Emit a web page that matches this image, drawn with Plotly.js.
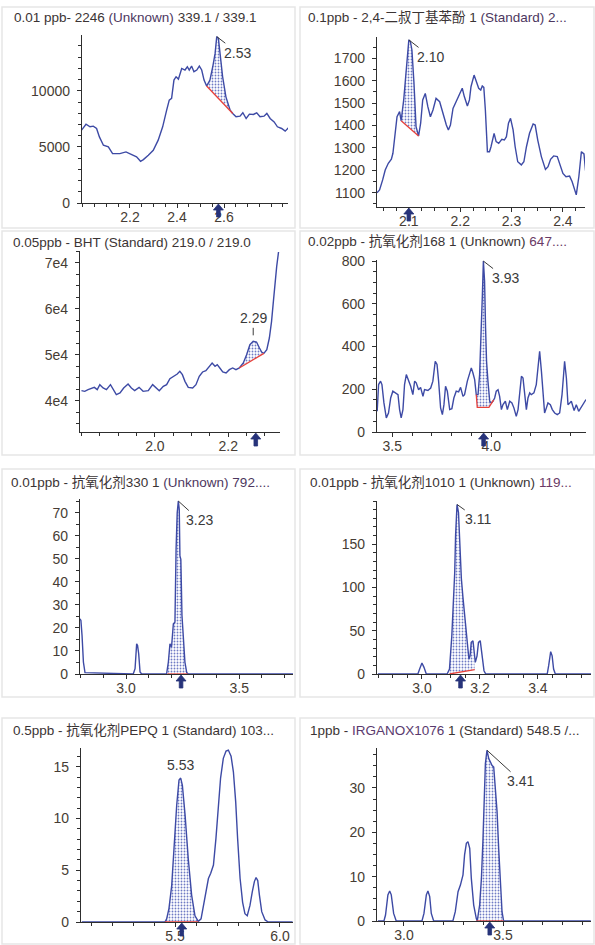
<!DOCTYPE html>
<html><head><meta charset="utf-8">
<script src="https://cdn.plot.ly/plotly-3.0.1.min.js"></script>
<style>html,body{margin:0;padding:0;background:#fff}#chart{width:595px;height:945px}</style>
</head><body><div id="chart"></div>
<script>
// ---------- DATA ----------
const p1Title = '0.01 ppb- 2246 <span style="color:#4d3760">(Unknown)</span> 339.1 / 339.1';
const p1X = [1.994,2.013,2.03,2.044,2.058,2.07,2.087,2.108,2.126,2.157,2.183,2.207,2.228,2.245,2.257,2.278,2.299,2.32,2.339,2.356,2.367,2.377,2.387,2.396,2.406,2.42,2.434,2.444,2.452,2.462,2.472,2.484,2.495,2.505,2.515,2.526,2.54,2.552,2.562,2.569,2.576,2.583,2.594,2.608,2.626,2.637,2.651,2.668,2.68,2.694,2.708,2.725,2.739,2.753,2.77,2.782,2.796,2.813,2.827,2.845,2.86,2.874];
const p1Y = [6490,7020,6790,6850,6640,5890,5150,5000,4400,4400,4550,4350,4110,3720,3870,4260,4700,5600,6790,8270,9170,9320,10950,11250,11040,11990,11850,12140,11850,12200,11700,11850,12200,11850,10950,10420,10950,12140,13330,14820,14670,13330,11250,9460,8270,7980,7680,7740,8040,7530,7920,7890,8040,7680,7740,7980,7530,7230,6790,6640,6400,6700];
const p1BaseX = [2.526,2.637], p1BaseY = [10420,7980];
const p1Peak = {x:2.569, y:14820, label:'2.53'}, p1Marker = 2.576;
const p1XTicks = [2.2,2.4,2.6], p1XLabels = ['2.2','2.4','2.6'];
const p1YTicks = [0,5000,10000], p1YLabels = ['0','5000','10000'];

const p2Title = '0.1ppb - 2,4-二叔丁基苯酚 1 <span style="color:#4d3760">(Standard) 2...</span>';
const p2X = [2.038,2.043,2.049,2.054,2.06,2.066,2.069,2.073,2.077,2.082,2.085,2.09,2.095,2.1,2.103,2.106,2.11,2.112,2.114,2.119,2.123,2.127,2.132,2.137,2.142,2.147,2.153,2.16,2.166,2.173,2.177,2.181,2.186,2.192,2.197,2.204,2.208,2.214,2.218,2.221,2.227,2.231,2.236,2.24,2.243,2.246,2.249,2.253,2.257,2.26,2.266,2.27,2.275,2.281,2.286,2.29,2.294,2.298,2.303,2.307,2.312,2.319,2.324,2.329,2.335,2.342,2.346,2.351,2.358,2.366,2.371,2.376,2.382,2.389,2.394,2.4,2.406,2.413,2.418,2.423,2.426,2.431,2.436,2.441,2.444,2.448];
const p2Y = [1100,1112,1157,1201,1231,1249,1276,1365,1439,1462,1421,1514,1663,1782,1775,1737,1588,1469,1395,1353,1410,1514,1543,1484,1439,1469,1521,1506,1454,1402,1380,1402,1476,1506,1529,1566,1529,1487,1514,1573,1625,1596,1566,1558,1576,1570,1469,1283,1283,1305,1365,1328,1320,1338,1335,1350,1410,1432,1380,1305,1238,1224,1238,1305,1365,1407,1402,1335,1261,1204,1216,1249,1264,1261,1231,1186,1171,1174,1149,1104,1090,1171,1283,1273,1201,1149];
const p2BaseX = [2.085,2.119], p2BaseY = [1421,1353];
const p2Peak = {x:2.1, y:1782, label:'2.10'}, p2Marker = 2.1;
const p2XTicks = [2.1,2.2,2.3,2.4], p2XLabels = ['2.1','2.2','2.3','2.4'];
const p2YTicks = [1100,1200,1300,1400,1500,1600,1700], p2YLabels = ['1100','1200','1300','1400','1500','1600','1700'];

const p3Title = '0.05ppb - BHT (Standard) 219.0 / 219.0';
const p3X = [1.8,1.809,1.818,1.827,1.835,1.843,1.85,1.859,1.868,1.879,1.888,1.895,1.905,1.915,1.927,1.936,1.945,1.957,1.968,1.982,1.994,2.003,2.012,2.023,2.032,2.041,2.052,2.061,2.068,2.075,2.082,2.091,2.103,2.112,2.121,2.13,2.139,2.145,2.15,2.156,2.164,2.17,2.177,2.185,2.194,2.203,2.212,2.221,2.23,2.241,2.25,2.259,2.268,2.277,2.285,2.291,2.297,2.305,2.312,2.318,2.323,2.327,2.332,2.337];
const p3Y = [42180,42030,42400,42610,42900,42400,43490,42760,42400,43490,42400,41310,41670,42760,43630,42760,42180,42900,42030,42180,43490,42900,42180,43120,43490,44790,45300,45810,46390,45660,44210,42900,42760,43490,45300,46250,46540,47120,47700,48210,47480,47840,47120,46250,46030,46750,47120,46750,47120,48210,50020,52200,52930,52780,51470,50600,50310,51110,53650,57280,61640,66000,69270,72390];
const p3BaseX = [2.23,2.297], p3BaseY = [47120,50310];
const p3Peak = {x:2.268, y:52930, label:'2.29'}, p3Marker = 2.275;
const p3XTicks = [2.0,2.2], p3XLabels = ['2.0','2.2'];
const p3YTicks = [40000,50000,60000,70000], p3YLabels = ['4e4','5e4','6e4','7e4'];

const p4Title = '0.02ppb - 抗氧化剂168 1 (Unknown) <span style="color:#6a3a66">647....</span>';
const p4X = [3.424,3.431,3.441,3.448,3.458,3.47,3.481,3.492,3.503,3.515,3.529,3.537,3.545,3.554,3.562,3.571,3.582,3.593,3.604,3.613,3.621,3.633,3.643,3.655,3.663,3.68,3.694,3.705,3.717,3.726,3.734,3.744,3.753,3.761,3.769,3.778,3.79,3.801,3.811,3.823,3.835,3.845,3.857,3.865,3.879,3.891,3.899,3.907,3.916,3.924,3.933,3.941,3.946,3.95,3.955,3.96,3.966,3.971,3.976,3.983,3.992,4.0,4.008,4.017,4.025,4.034,4.042,4.051,4.059,4.071,4.081,4.093,4.104,4.114,4.126,4.135,4.143,4.152,4.16,4.168,4.177,4.185,4.194,4.202,4.215,4.227,4.236,4.244,4.253,4.261,4.269,4.278,4.286,4.298,4.308,4.32,4.333,4.345,4.357,4.365,4.37,4.379,4.387,4.396,4.404,4.418,4.429,4.441,4.455,4.468,4.478];
const p4Y = [97,222,238,222,136,66,89,159,191,183,175,105,66,105,222,269,245,214,175,238,230,198,209,167,198,194,206,238,331,316,238,113,81,128,214,191,105,109,159,191,188,209,167,175,238,269,300,277,245,175,175,269,378,519,644,800,706,488,331,238,144,136,144,159,191,198,167,105,128,144,105,144,136,113,73,105,191,261,253,175,105,159,183,175,183,222,300,378,284,159,89,113,136,128,105,89,81,89,175,269,331,253,128,136,144,100,128,97,120,136,152];
const p4BaseX = [3.924,3.929,3.988,4.012], p4BaseY = [175,115,115,150];
const p4Peak = {x:3.96, y:800, label:'3.93'}, p4Marker = 3.961;
const p4XTicks = [3.5,4.0], p4XLabels = ['3.5','4.0'];
const p4YTicks = [0,200,400,600,800], p4YLabels = ['0','200','400','600','800'];

const p5Title = '0.01ppb - 抗氧化剂330 1 <span style="color:#4d3760">(Unknown) 792....</span>';
const p5X = [2.797,2.801,2.806,2.812,2.819,3.032,3.04,3.047,3.051,3.056,3.062,3.069,3.179,3.187,3.194,3.201,3.209,3.216,3.221,3.226,3.231,3.235,3.238,3.242,3.247,3.253,3.26,3.268,3.275,3.737];
const p5Y = [24,23.3,16.7,5.2,0.6,0,2.3,13.1,12.4,8.8,0.9,0,0,5.2,13.1,11.7,21.8,22.5,54.2,70,75.1,71.5,51.3,49.8,25.4,15.3,5.2,0.6,0,0];
const p5BaseX = [3.183,3.272], p5BaseY = [0,0];
const p5Peak = {x:3.231, y:75.1, label:'3.23'}, p5Marker = 3.243;
const p5XTicks = [3.0,3.5], p5XLabels = ['3.0','3.5'];
const p5YTicks = [0,10,20,30,40,50,60,70], p5YLabels = ['0','10','20','30','40','50','60','70'];

const p6Title = '0.01ppb - 抗氧化剂1010 1 (Unknown) <span style="color:#6a3a66">119...</span>';
const p6X = [2.848,2.986,2.992,3.0,3.007,3.015,3.087,3.095,3.103,3.109,3.113,3.116,3.121,3.126,3.13,3.136,3.141,3.147,3.153,3.159,3.162,3.166,3.17,3.176,3.179,3.184,3.19,3.195,3.201,3.207,3.214,3.22,3.432,3.437,3.444,3.449,3.454,3.46,3.583];
const p6Y = [0,0,5.8,12.7,7.7,0,0,5.8,44,83,117,160,196,187,148,110,90,67,52,29,17,21,36.5,38.5,25,13.5,21,36.5,38.5,21,3.8,0,0,9.6,25.8,21,5.8,0,0];
const p6BaseX = [3.095,3.182], p6BaseY = [0,5];
const p6Peak = {x:3.121, y:196, label:'3.11'}, p6Marker = 3.133;
const p6XTicks = [3.0,3.2,3.4], p6XLabels = ['3.0','3.2','3.4'];
const p6YTicks = [0,50,100,150], p6YLabels = ['0','50','100','150'];

const p7Title = '0.5ppb - 抗氧化剂PEPQ 1 (Standard) 103...';
const p7X = [5.056,5.452,5.46,5.471,5.484,5.495,5.508,5.519,5.527,5.535,5.548,5.563,5.579,5.595,5.611,5.624,5.635,5.648,5.659,5.67,5.683,5.695,5.706,5.717,5.73,5.743,5.754,5.767,5.778,5.789,5.798,5.81,5.822,5.833,5.844,5.857,5.868,5.878,5.886,5.894,5.902,5.913,5.929,5.944,6.06];
const p7Y = [0,0,0.3,1.3,3.5,7.4,11.3,13.7,13.9,13.2,10.3,6.1,2.6,0.6,0.06,0.3,1.6,3.2,4.2,4.7,5.5,8.1,11.3,13.9,15.8,16.5,16.6,16.0,14.5,11.6,8.1,4.2,1.9,0.8,0.6,1.6,2.9,3.9,4.3,4.0,2.6,1.0,0.2,0,0];
const p7BaseX = [5.452,5.611], p7BaseY = [0,0];
const p7Peak = {x:5.527, y:13.9, label:'5.53'}, p7Marker = 5.532;
const p7XTicks = [5.5,6.0], p7XLabels = ['5.5','6.0'];
const p7YTicks = [0,5,10,15], p7YLabels = ['0','5','10','15'];

const p8Title = '1ppb - <span style="color:#5a3a6e">IRGANOX1076</span> 1 (Standard) 548.5 /...';
const p8X = [2.869,2.899,2.907,2.919,2.928,2.936,2.948,2.961,3.091,3.101,3.113,3.121,3.13,3.138,3.15,3.247,3.259,3.273,3.285,3.298,3.306,3.315,3.323,3.332,3.34,3.352,3.365,3.37,3.382,3.391,3.399,3.404,3.411,3.419,3.428,3.436,3.444,3.453,3.461,3.47,3.478,3.487,3.495,3.503,3.943];
const p8Y = [0,0,1.35,5.9,6.75,5.9,1.7,0,0,1.7,5.9,6.75,5.5,1.7,0,0,2.1,6.6,8.1,10.4,14.9,17.5,17.9,16.4,9.6,3.6,0.6,0,3.6,9.6,18.6,26.1,35.5,38.5,36.6,35.9,35.1,34.7,29.9,24.6,16.4,8.1,2.1,0,0];
const p8BaseX = [3.365,3.503], p8BaseY = [0,0];
const p8Peak = {x:3.419, y:38.5, label:'3.41'}, p8Marker = 3.433;
const p8XTicks = [3.0,3.5], p8XLabels = ['3.0','3.5'];
const p8YTicks = [0,10,20,30], p8YLabels = ['0','10','20','30'];

// ---------- LAYOUT / STYLE ----------
const W = 595, H = 945;
const BLUE = '#3d4aa5', RED = '#e8413a', ARROW = '#27337a', AXIS = '#2e2e2e';
const FONT = 'Liberation Sans, Arial, Noto Sans CJK SC, sans-serif';
const TICKCOL = '#463c34';

const panels = [
  {x:p1X,y:p1Y,bx:p1BaseX,by:p1BaseY,pk:p1Peak,mk:p1Marker,title:p1Title,xt:p1XTicks,xl:p1XLabels,yt:p1YTicks,yl:p1YLabels,
   box:[82,288,35,203], xr:[1.996,2.872], yr:[0,14970], xm:0.05, ym:1000, tpos:[12,17], lab:{ax:21,ay:16}},
  {x:p2X,y:p2Y,bx:p2BaseX,by:p2BaseY,pk:p2Peak,mk:p2Marker,title:p2Title,xt:p2XTicks,xl:p2XLabels,yt:p2YTicks,yl:p2YLabels,
   box:[377,585,37,207], xr:[2.038,2.443], yr:[1036,1795], xm:0.025, ym:50, tpos:[306,17], lab:{ax:22,ay:17}},
  {x:p3X,y:p3Y,bx:p3BaseX,by:p3BaseY,pk:p3Peak,mk:p3Marker,title:p3Title,xt:p3XTicks,xl:p3XLabels,yt:p3YTicks,yl:p3YLabels,
   box:[80,280,251,432], xr:[1.796,2.341], yr:[33170,72610], xm:0.05, ym:2500, tpos:[11,243], lab:{ax:0,ay:-23,standoff:6}},
  {x:p4X,y:p4Y,bx:p4BaseX,by:p4BaseY,pk:p4Peak,mk:p4Marker,title:p4Title,xt:p4XTicks,xl:p4XLabels,yt:p4YTicks,yl:p4YLabels,
   box:[377,586,260,432], xr:[3.423,4.478], yr:[0,805], xm:0.1, ym:50, tpos:[306,241], lab:{ax:22,ay:17}},
  {x:p5X,y:p5Y,bx:p5BaseX,by:p5BaseY,pk:p5Peak,mk:p5Marker,title:p5Title,xt:p5XTicks,xl:p5XLabels,yt:p5YTicks,yl:p5YLabels,
   box:[80,293,499,674], xr:[2.797,3.737], yr:[0,76], xm:0.1, ym:5, tpos:[9,483], lab:{ax:21,ay:19}},
  {x:p6X,y:p6Y,bx:p6BaseX,by:p6BaseY,pk:p6Peak,mk:p6Marker,title:p6Title,xt:p6XTicks,xl:p6XLabels,yt:p6YTicks,yl:p6YLabels,
   box:[377,591,501,674], xr:[2.845,3.583], yr:[0,200], xm:0.05, ym:10, tpos:[308,483], lab:{ax:21,ay:15}},
  {x:p7X,y:p7Y,bx:p7BaseX,by:p7BaseY,pk:p7Peak,mk:p7Marker,title:p7Title,xt:p7XTicks,xl:p7XLabels,yt:p7YTicks,yl:p7YLabels,
   box:[81,293,748,922], xr:[5.052,6.062], yr:[0,16.8], xm:0.1, ym:1, tpos:[11,730], lab:{above:true}},
  {x:p8X,y:p8Y,bx:p8BaseX,by:p8BaseY,pk:p8Peak,mk:p8Marker,title:p8Title,xt:p8XTicks,xl:p8XLabels,yt:p8YTicks,yl:p8YLabels,
   box:[377,591,748,921], xr:[2.864,3.944], yr:[0,39], xm:0.1, ym:2.5, tpos:[308,730], lab:{ax:34,ay:31}}
];

const frames = [ // light panel frames [left,right,top,bottom] px
  [2,295,7,228],[300,594,7,228],[2,295,231,455],[300,594,231,455],
  [2,295,469,697],[300,594,469,697],[2,295,718,944],[300,594,718,944]
];

function peakPolygon(xs, ys, bx, by){
  const px=[], py=[];
  const lo=bx[0], hi=bx[bx.length-1];
  xs.forEach((v,i)=>{ if(v>=lo-1e-9 && v<=hi+1e-9){px.push(v);py.push(ys[i]);} });
  for(let i=bx.length-1;i>=0;i--){px.push(bx[i]);py.push(by[i]);}
  return {px,py};
}

// up-arrow marker outline (pixel offsets relative to axis bottom)
const ARROW_PATH = 'M0,-1 L5,-7 L1.8,-7 L1.8,-14 L-1.8,-14 L-1.8,-7 L-5,-7 Z';

const traces = [], annotations = [], shapes = [];
const layout = {
  width:W, height:H, margin:{l:0,r:0,t:0,b:0}, showlegend:false,
  paper_bgcolor:'#fff', plot_bgcolor:'rgba(0,0,0,0)',
  font:{family:FONT, size:14, color:TICKCOL}
};

frames.forEach(f=>{
  shapes.push({type:'rect', xref:'paper', yref:'paper', x0:f[0]/W, x1:f[1]/W, y0:1-f[3]/H, y1:1-f[2]/H,
    line:{color:'#e6e6e6', width:1.5}, fillcolor:'rgba(0,0,0,0)', layer:'below'});
});

panels.forEach((p,i)=>{
  const n = i+1;
  const xa = 'x'+(n===1?'':n), ya = 'y'+(n===1?'':n);
  const xk = 'xaxis'+(n===1?'':n), yk = 'yaxis'+(n===1?'':n);
  const [L,R,T,B] = p.box;
  const common = {showline:true, linecolor:AXIS, linewidth:1.2, showgrid:false, zeroline:false,
    ticks:'outside', ticklen:4, tickwidth:1, tickcolor:AXIS, tickmode:'array', fixedrange:true,
    tickfont:{family:FONT, size:14, color:TICKCOL}, layer:'below traces'};
  layout[xk] = Object.assign({}, common, {domain:[L/W, R/W], range:p.xr, anchor:ya,
    tickvals:p.xt, ticktext:p.xl, ticklabelstandoff:-3,
    minor:{tickmode:'linear', tick0:0, dtick:p.xm, ticks:'outside', ticklen:3, tickcolor:AXIS, showgrid:false}});
  layout[yk] = Object.assign({}, common, {domain:[1-B/H, 1-T/H], range:p.yr, anchor:xa,
    tickvals:p.yt, ticktext:p.yl, ticklabelstandoff:4,
    minor:{tickmode:'linear', tick0:0, dtick:p.ym, ticks:'outside', ticklen:3, tickcolor:AXIS, showgrid:false}});

  const poly = peakPolygon(p.x, p.y, p.bx, p.by);
  traces.push({type:'scatter', mode:'none', x:poly.px, y:poly.py, xaxis:xa, yaxis:ya, fill:'toself',
    fillcolor:'rgba(255,255,255,0)', hoverinfo:'skip',
    fillpattern:{shape:'.', fgcolor:'#6f7bc4', bgcolor:'rgba(255,255,255,0)', size:3, solidity:0.3}});
  traces.push({type:'scatter', mode:'lines', x:p.x, y:p.y, xaxis:xa, yaxis:ya,
    line:{color:BLUE, width:1.4}, cliponaxis:false, hoverinfo:'skip'});
  traces.push({type:'scatter', mode:'lines', x:p.bx, y:p.by, xaxis:xa, yaxis:ya,
    line:{color:RED, width:1.3}, cliponaxis:false, hoverinfo:'skip'});

  // title
  annotations.push({xref:'paper', yref:'paper', x:p.tpos[0]/W, y:1-p.tpos[1]/H, xanchor:'left', yanchor:'middle',
    text:p.title, showarrow:false, font:{family:FONT, size:13.5, color:'#3b3434'}});
  // peak label
  if(p.lab.above){
    annotations.push({xref:xa, yref:ya, x:p.pk.x, y:p.pk.y, text:p.pk.label, showarrow:false,
      yanchor:'bottom', yshift:3, font:{family:FONT, size:14, color:'#3a3a3a'}});
  } else {
    annotations.push({xref:xa, yref:ya, x:p.pk.x, y:p.pk.y, text:p.pk.label, showarrow:true,
      ax:p.lab.ax, ay:p.lab.ay, arrowhead:0, arrowwidth:1, arrowcolor:'#3a3a3a', standoff:p.lab.standoff||0,
      font:{family:FONT, size:14, color:'#3a3a3a'}});
  }
  // expected RT marker arrow under the axis
  shapes.push({type:'path', xref:xa, yref:ya+' domain', xsizemode:'pixel', ysizemode:'pixel',
    xanchor:p.mk, yanchor:0, path:ARROW_PATH, fillcolor:ARROW, line:{color:ARROW, width:0.8}, layer:'above'});
});

layout.annotations = annotations;
layout.shapes = shapes;
Plotly.newPlot('chart', traces, layout, {staticPlot:true, displayModeBar:false});
</script>
</body></html>
